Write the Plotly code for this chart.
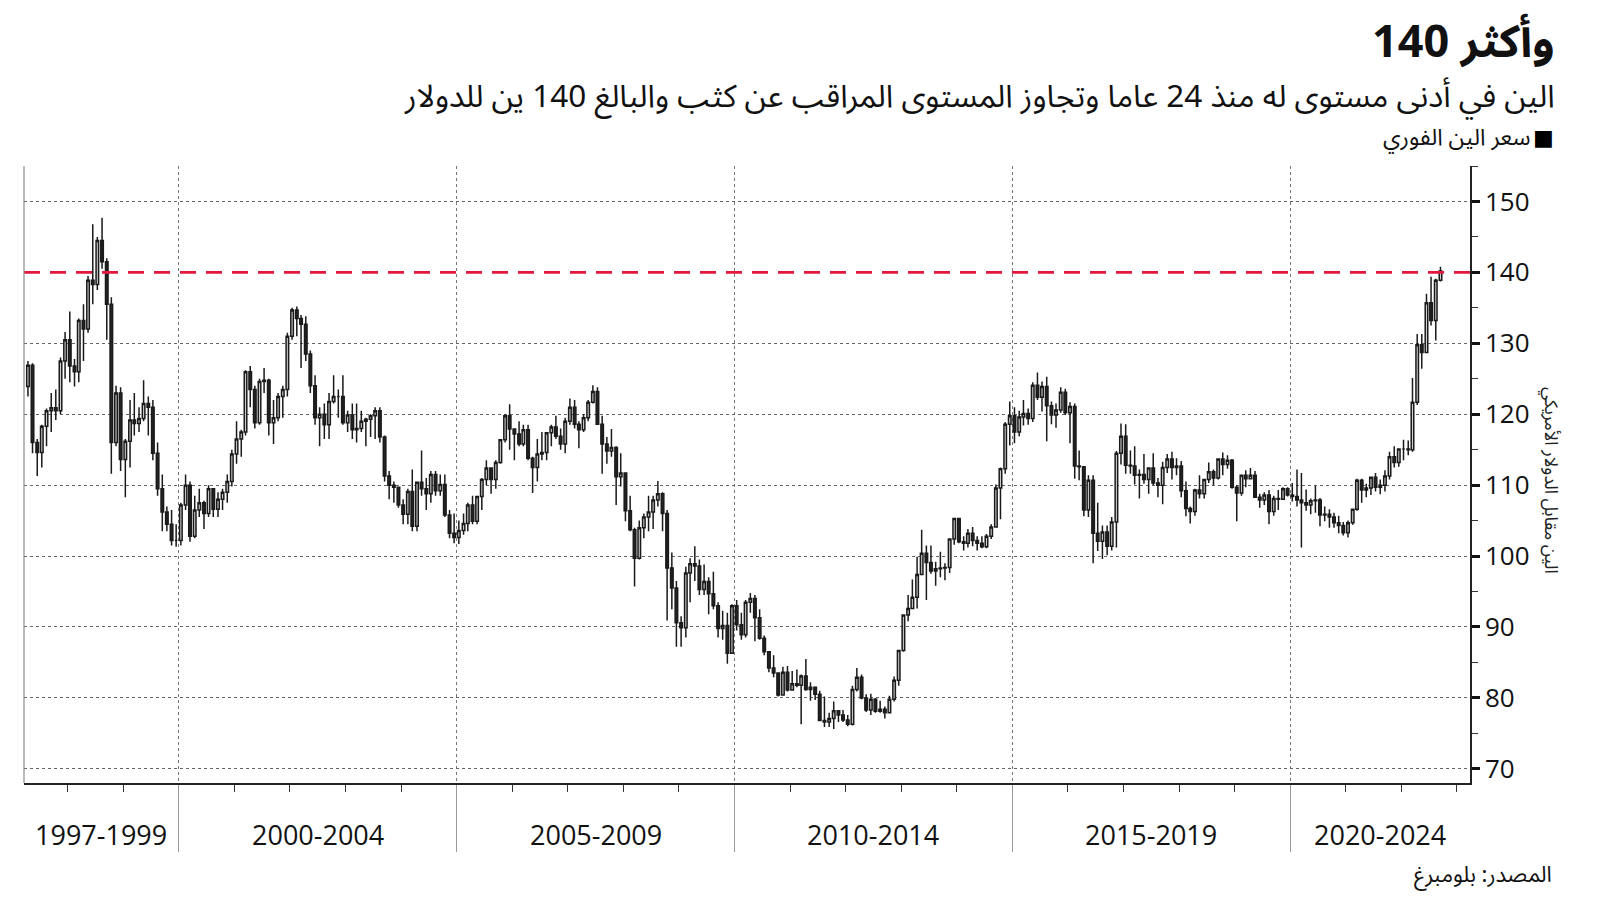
import pandas as pd
import plotly.graph_objects as go

# ---------------- data (USD/JPY spot, monthly candles) ----------------
first_month = "1997-04"
first_open = 123.9

monthly_close = [
    # 1997 (Apr-Dec)
    126.9, 116.0, 114.6, 118.3, 120.5, 120.9, 120.5, 127.5, 130.5,
    # 1998
    126.8, 126.0, 133.2, 132.0, 138.9, 138.3, 144.5, 141.5, 135.5, 116.0, 123.0, 113.6,
    # 1999
    116.2, 119.2, 118.7, 119.4, 121.5, 121.0, 114.5, 109.5, 106.2, 104.5, 102.2, 102.2,
    # 2000
    107.2, 110.0, 102.8, 106.5, 107.5, 106.0, 109.5, 106.6, 108.0, 109.0, 110.5, 114.4,
    # 2001
    116.5, 117.5, 126.0, 123.5, 118.8, 124.6, 124.8, 118.8, 119.5, 122.5, 123.5, 131.0,
    # 2002
    134.7, 133.5, 132.7, 128.5, 124.0, 119.5, 120.0, 118.5, 121.8, 122.5, 122.5, 118.8,
    # 2003
    119.9, 117.8, 118.0, 119.0, 119.3, 119.8, 120.5, 116.8, 111.3, 110.0, 109.7, 107.2,
    # 2004
    105.9, 109.1, 104.2, 110.4, 109.5, 108.8, 111.5, 109.2, 110.1, 105.8, 103.2, 102.6,
    # 2005
    103.6, 104.6, 107.2, 104.9, 108.4, 110.8, 112.4, 110.8, 113.2, 116.4, 119.8, 117.9,
    # 2006
    117.2, 115.8, 117.8, 113.8, 112.5, 114.4, 114.6, 117.4, 118.2, 116.9, 115.8, 119.0,
    # 2007
    121.0, 118.6, 117.8, 119.5, 121.7, 123.2, 118.6, 115.8, 114.8, 115.3, 111.2, 111.7,
    # 2008
    106.4, 103.7, 99.7, 104.0, 105.5, 106.2, 107.9, 108.8, 106.0, 98.3, 95.5, 90.6,
    # 2009
    89.9, 97.6, 98.9, 98.6, 95.3, 96.4, 94.7, 93.0, 89.8, 90.2, 86.3, 93.0,
    # 2010
    90.3, 88.9, 93.5, 94.0, 91.3, 88.4, 86.5, 84.2, 83.5, 80.4, 83.6, 81.1,
    # 2011
    82.0, 81.8, 83.1, 81.2, 81.5, 80.5, 76.8, 76.6, 77.1, 78.2, 77.6, 76.9,
    # 2012
    76.3, 81.2, 82.9, 80.0, 78.3, 79.8, 78.1, 78.4, 77.9, 79.8, 82.5, 86.7,
    # 2013
    91.7, 92.6, 94.2, 97.4, 100.4, 99.1, 97.9, 98.2, 98.3, 98.4, 102.4, 105.3,
    # 2014
    102.0, 101.8, 103.2, 102.2, 101.8, 101.3, 102.8, 104.1, 109.6, 112.3, 118.6, 119.8,
    # 2015
    117.5, 119.6, 120.1, 119.4, 124.1, 122.4, 123.9, 121.2, 119.9, 120.6, 123.1, 120.2,
    # 2016
    121.1, 112.7, 112.6, 106.5, 110.7, 103.2, 102.1, 103.4, 101.4, 104.8, 114.5, 116.9,
    # 2017
    112.8, 112.7, 111.4, 111.5, 110.8, 112.4, 110.3, 110.0, 112.5, 113.7, 112.5, 112.7,
    # 2018
    109.2, 106.7, 106.3, 109.3, 108.8, 110.8, 111.9, 111.0, 113.7, 112.9, 113.5, 109.7,
    # 2019
    108.9, 111.4, 110.9, 111.4, 108.3, 107.9, 108.6, 106.3, 108.1, 108.0, 109.5, 108.6,
    # 2020
    108.4, 107.9, 107.5, 107.2, 107.8, 107.9, 105.8, 105.9, 105.5, 104.7, 104.3, 103.3,
    # 2021
    104.7, 106.6, 110.7, 109.3, 109.6, 111.1, 109.7, 110.0, 111.3, 114.0, 113.2, 115.1,
    # 2022 (Jan-Sep)
    115.1, 115.0, 121.7, 129.8, 128.7, 135.7, 133.2, 138.9, 140.2,
]

monthly_high = [
    127.5, 127.2, 116.5, 118.5, 120.8, 123.0, 123.5, 128.0, 131.6,
    134.5, 127.8, 133.5, 135.5, 139.5, 146.8, 145.0, 147.7, 142.0, 136.5, 124.0, 123.8,
    116.5, 122.0, 123.0, 121.0, 124.8, 122.5, 122.0, 116.0, 111.5, 107.0, 106.5, 104.5,
    107.5, 111.5, 110.5, 108.5, 109.5, 107.8, 110.0, 109.5, 109.0, 109.5, 111.5, 115.0,
    119.0, 117.8, 126.2, 126.8, 124.0, 125.0, 126.5, 125.0, 122.0, 123.0, 124.0, 131.5,
    135.0, 135.2, 134.0, 133.8, 129.0, 125.5, 121.0, 121.5, 123.0, 125.5, 123.5, 125.5,
    120.5, 121.5, 121.5, 120.5, 119.5, 120.0, 121.0, 121.0, 117.0, 112.0, 110.5, 109.8,
    108.0, 109.5, 112.2, 110.5, 114.9, 111.0, 112.0, 112.0, 111.5, 111.5, 106.5, 106.0,
    105.0, 106.0, 107.5, 108.5, 108.5, 111.0, 113.5, 112.5, 113.5, 116.5, 120.0, 121.4,
    118.0, 119.0, 118.5, 118.5, 114.0, 116.5, 117.5, 117.5, 118.5, 119.8, 118.0, 119.5,
    122.2, 122.0, 119.0, 120.0, 122.0, 124.1, 123.8, 119.8, 116.8, 117.9, 115.5, 114.5,
    111.8, 108.5, 104.0, 105.0, 106.0, 108.5, 108.5, 110.6, 109.0, 106.5, 100.5, 96.5,
    91.5, 98.5, 99.7, 101.4, 99.5, 98.8, 97.0, 97.8, 93.5, 92.3, 92.0, 93.2,
    93.8, 92.0, 93.8, 94.8, 94.5, 92.5, 88.8, 86.5, 86.0, 83.5, 84.4, 84.5,
    83.8, 84.0, 83.3, 85.5, 82.2, 81.5, 81.0, 80.2, 77.9, 79.5, 78.3, 78.3,
    77.6, 81.7, 84.2, 83.3, 80.5, 80.6, 80.0, 79.6, 78.8, 80.3, 83.0, 86.8,
    91.8, 94.5, 96.7, 99.9, 103.7, 101.5, 101.5, 99.2, 100.6, 99.0, 102.5, 105.4,
    105.4, 102.8, 103.8, 104.1, 102.8, 102.8, 103.1, 104.5, 110.1, 112.5, 118.9, 121.8,
    121.0, 120.5, 122.0, 120.8, 124.5, 125.9, 124.6, 125.3, 121.8, 121.5, 123.8, 123.6,
    121.7, 121.5, 114.9, 112.7, 111.4, 111.4, 107.5, 104.3, 104.3, 105.5, 114.8, 118.7,
    118.6, 114.9, 115.5, 112.2, 114.4, 112.5, 114.5, 111.0, 113.3, 114.4, 114.7, 113.8,
    113.4, 110.5, 107.0, 109.5, 111.4, 110.9, 113.2, 112.2, 113.8, 114.6, 114.2, 113.7,
    110.0, 111.5, 112.1, 112.4, 112.0, 108.8, 109.0, 109.3, 108.5, 109.3, 109.7, 109.7,
    110.3, 112.2, 111.7, 109.4, 108.1, 109.9, 108.2, 107.0, 106.6, 106.1, 105.7, 104.8,
    105.0, 106.7, 110.9, 110.9, 110.2, 111.2, 111.7, 110.8, 112.1, 114.7, 115.5, 115.2,
    116.4, 116.3, 125.1, 131.3, 131.3, 137.0, 139.4, 139.1, 140.8,
]

monthly_low = [
    122.5, 114.5, 111.3, 112.5, 115.5, 117.5, 119.2, 120.0, 125.0,
    124.5, 123.9, 124.5, 127.5, 131.5, 135.5, 137.5, 140.5, 130.5, 111.6, 115.5, 112.0,
    108.3, 112.5, 117.0, 117.5, 119.0, 117.0, 113.5, 108.5, 103.5, 103.5, 101.5, 101.3,
    101.5, 106.5, 102.0, 102.5, 105.5, 103.8, 105.5, 105.5, 105.5, 106.5, 107.5, 109.8,
    113.0, 114.0, 117.0, 121.0, 118.0, 118.5, 123.0, 117.0, 115.8, 119.0, 119.5, 122.5,
    130.5, 131.0, 126.5, 127.5, 123.0, 118.5, 115.5, 116.5, 116.5, 121.5, 119.5, 118.5,
    117.5, 116.5, 116.0, 117.5, 115.5, 116.8, 116.5, 116.0, 110.5, 108.0, 107.5, 106.8,
    104.5, 104.5, 103.5, 103.5, 108.5, 106.5, 107.5, 108.5, 108.5, 105.5, 102.5, 101.8,
    101.7, 103.0, 103.5, 104.5, 104.5, 106.5, 110.0, 108.8, 109.5, 113.0, 116.0, 115.0,
    113.5, 115.5, 115.5, 113.5, 108.9, 110.5, 113.5, 113.5, 115.5, 116.5, 115.0, 114.5,
    118.5, 118.0, 115.2, 117.5, 119.0, 121.5, 118.5, 111.6, 113.0, 114.0, 107.2, 109.8,
    104.9, 103.5, 95.7, 99.5, 102.5, 103.5, 103.8, 107.0, 103.5, 90.9, 92.5, 87.2,
    87.2, 88.5, 93.5, 96.5, 94.5, 94.5, 91.8, 92.5, 88.5, 88.2, 84.8, 86.5,
    89.5, 88.2, 88.5, 92.0, 88.0, 88.2, 86.0, 83.6, 82.9, 80.2, 80.3, 80.9,
    81.0, 81.5, 76.3, 81.0, 79.6, 79.7, 76.7, 75.9, 75.9, 75.6, 76.6, 76.6,
    76.0, 76.1, 80.9, 79.8, 78.0, 77.6, 77.9, 77.9, 77.1, 77.9, 79.5, 81.7,
    86.5, 90.8, 92.5, 92.6, 97.3, 93.8, 97.5, 95.8, 97.0, 96.6, 97.6, 101.6,
    101.8, 100.8, 101.2, 101.4, 100.8, 101.1, 101.1, 102.4, 104.0, 105.2, 111.6, 115.6,
    115.9, 116.9, 118.4, 118.5, 118.9, 122.0, 120.4, 116.2, 118.6, 118.1, 120.2, 119.9,
    115.9, 110.9, 110.7, 105.6, 105.5, 99.0, 100.7, 99.6, 100.1, 100.8, 101.2, 112.9,
    111.6, 111.6, 110.1, 108.1, 110.2, 108.8, 110.0, 108.3, 107.3, 111.7, 110.8, 111.4,
    108.3, 105.6, 104.6, 105.7, 108.1, 108.1, 110.3, 110.0, 110.8, 111.4, 112.3, 109.5,
    104.9, 108.5, 109.7, 110.8, 108.2, 106.8, 107.2, 104.5, 105.7, 106.5, 107.9, 108.4,
    107.7, 107.0, 101.2, 106.4, 105.9, 106.1, 104.2, 104.9, 104.0, 104.0, 103.2, 102.9,
    102.6, 104.4, 106.4, 107.5, 108.3, 108.6, 109.1, 108.7, 109.1, 110.8, 112.5, 112.6,
    113.5, 114.2, 114.7, 121.3, 126.4, 128.7, 132.5, 130.4, 138.7,
]

period_labels = ["1997-1999", "2000-2004", "2005-2009", "2010-2014", "2015-2019", "2020-2024"]
period_starts = ["1997-01-01", "2000-01-01", "2005-01-01", "2010-01-01", "2015-01-01", "2020-01-01"]
period_ends = ["2000-01-01", "2005-01-01", "2010-01-01", "2015-01-01", "2020-01-01", "2025-01-01"]

y_ticks = [70, 80, 90, 100, 110, 120, 130, 140, 150]
threshold = 140

title_text = "وأكثر 140"
subtitle_text = "الين في أدنى مستوى له منذ 24 عاما وتجاوز المستوى المراقب عن كثب والبالغ 140 ين للدولار"
legend_text = "سعر الين الفوري"
axis_title_text = "الين مقابل الدولار الأمريكي"
source_text = "المصدر: بلومبرغ"

# ---------------- build ----------------
dates = pd.date_range(first_month, periods=len(monthly_close), freq="MS") + pd.Timedelta(days=14)
opens = [first_open] + monthly_close[:-1]
highs = [max(h, o, c) for h, o, c in zip(monthly_high, opens, monthly_close)]
lows = [min(l, o, c) for l, o, c in zip(monthly_low, opens, monthly_close)]
grid_ticks = [v for v in y_ticks if v != threshold]

x_range = ["1997-03-20", "2023-03-28"]
y_range = [68, 155]

W, H = 1600, 901
ML, MR, MT, MB = 24, 130, 166, 118
PW, PH = W - ML - MR, H - MT - MB


def px_x(px):
    return (px - ML) / PW


def px_y(py):
    return (H - MB - py) / PH


AR_FONT = "Noto Sans Arabic, DejaVu Sans, sans-serif"
NUM_FONT = "Open Sans, Noto Sans, sans-serif"

fig = go.Figure()
fig.add_trace(go.Candlestick(
    x=dates, open=opens, high=highs, low=lows, close=monthly_close,
    increasing=dict(line=dict(color="#1a1a1a", width=1.5), fillcolor="#d0d0d0"),
    decreasing=dict(line=dict(color="#1a1a1a", width=1.5), fillcolor="#242424"),
    whiskerwidth=0, showlegend=False, hoverinfo="skip",
))

# threshold line
fig.add_shape(type="line", xref="paper", yref="y", x0=0, x1=1, y0=threshold, y1=threshold,
              line=dict(color="#e3173e", width=2.6, dash="16px,10px"), layer="above")
# left frame line
fig.add_shape(type="line", xref="paper", yref="paper", x0=0, x1=0, y0=0, y1=1,
              line=dict(color="#8a8a8a", width=1.2))

# period labels
x0r, x1r = pd.Timestamp(x_range[0]), pd.Timestamp(x_range[1])
for lab, s, e in zip(period_labels, period_starts, period_ends):
    a = max(pd.Timestamp(s), x0r)
    b = min(pd.Timestamp(e), x1r)
    mid = a + (b - a) / 2
    fig.add_annotation(x=mid, xref="x", y=px_y(834), yref="paper", text=lab, showarrow=False,
                       font=dict(family=NUM_FONT, size=27, color="#111"), xanchor="center", yanchor="middle")

fig.add_annotation(x=px_x(1557), y=px_y(43), xref="paper", yref="paper", text="<b>" + title_text + "</b>",
                   showarrow=False, xanchor="right", yanchor="middle",
                   font=dict(family=AR_FONT, size=45, color="#111"))
fig.add_annotation(x=px_x(1557), y=px_y(97), xref="paper", yref="paper", text=subtitle_text,
                   showarrow=False, xanchor="right", yanchor="middle",
                   font=dict(family=AR_FONT, size=31.5, color="#111"))
fig.add_annotation(x=px_x(1556), y=px_y(138), xref="paper", yref="paper", text="■",
                   showarrow=False, xanchor="right", yanchor="middle",
                   font=dict(family="DejaVu Sans", size=22, color="#000"))
fig.add_annotation(x=px_x(1533), y=px_y(138), xref="paper", yref="paper", text=legend_text,
                   showarrow=False, xanchor="right", yanchor="middle",
                   font=dict(family=AR_FONT, size=23, color="#111"))
fig.add_annotation(x=px_x(1554), y=px_y(875), xref="paper", yref="paper", text=source_text,
                   showarrow=False, xanchor="right", yanchor="middle",
                   font=dict(family=AR_FONT, size=22, color="#111"))
fig.add_annotation(x=px_x(1551), y=px_y(480), xref="paper", yref="paper", text=axis_title_text,
                   showarrow=False, xanchor="center", yanchor="middle", textangle=90,
                   font=dict(family=AR_FONT, size=18, color="#222"))

fig.update_layout(
    width=W, height=H,
    margin=dict(l=ML, r=MR, t=MT, b=MB, autoexpand=False),
    paper_bgcolor="white", plot_bgcolor="white",
    showlegend=False,
    boxgap=0.15,
    xaxis=dict(
        type="date", range=x_range, rangeslider=dict(visible=False),
        tickmode="array", tickvals=period_starts[1:], showticklabels=False,
        ticks="outside", ticklen=67, tickcolor="#9a9a9a", tickwidth=1.2,
        showgrid=True, gridcolor="#777", griddash="dot", gridwidth=1,
        showline=True, linecolor="#222", linewidth=1.5,
        minor=dict(tickmode="linear", tick0="2000-01-01", dtick="M12", ticks="outside",
                   ticklen=7, tickcolor="#333", tickwidth=1, showgrid=False),
        zeroline=False,
    ),
    yaxis=dict(
        side="right", range=y_range, tickmode="array", tickvals=y_ticks,
        ticks="outside", ticklen=8, tickwidth=3, tickcolor="#111",
        tickfont=dict(family=NUM_FONT, size=26, color="#111"),
        showgrid=False,
        showline=True, linecolor="#222", linewidth=1.5,
        minor=dict(tickmode="linear", tick0=65, dtick=10, ticks="outside", ticklen=6,
                   tickcolor="#333", tickwidth=1, showgrid=False),
        zeroline=False,
    ),
    # grid-only companion axis (no gridline under the dashed threshold)
    yaxis2=dict(
        overlaying="y", side="right", range=y_range, tickmode="array", tickvals=grid_ticks,
        showticklabels=False, ticks="", showline=False, zeroline=False,
        showgrid=True, gridcolor="#666", griddash="dot", gridwidth=1,
    ),
)
# invisible trace to activate the grid axis
fig.add_trace(go.Scatter(x=[dates[0]], y=[y_range[0]], yaxis="y2", mode="markers",
                         marker=dict(opacity=0), showlegend=False, hoverinfo="skip"))

fig.write_html("out.html", config={"displayModeBar": False},
               post_script="document.body.style.margin='0';")
